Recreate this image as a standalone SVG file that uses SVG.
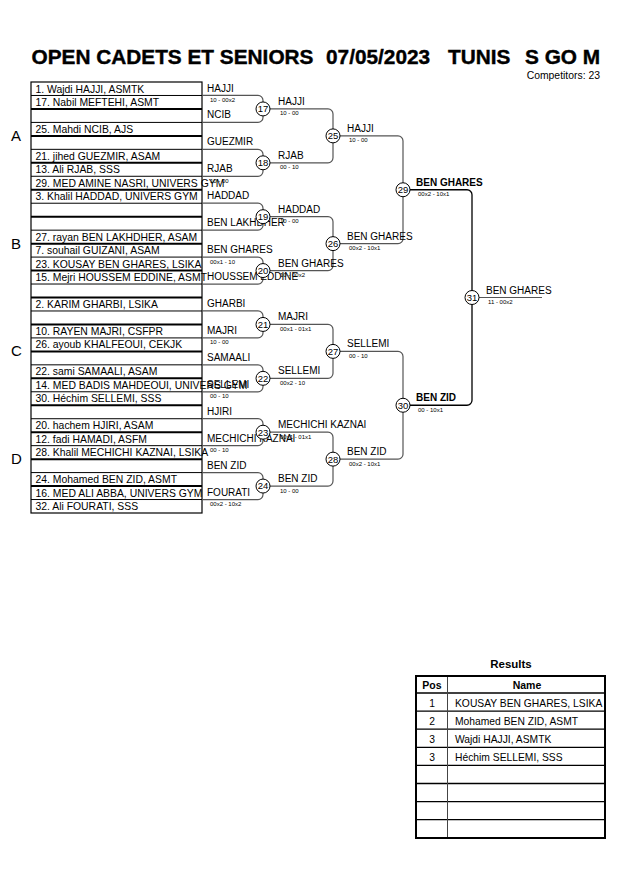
<svg xmlns="http://www.w3.org/2000/svg" width="630" height="891" viewBox="0 0 630 891">
<style>
text{font-family:"Liberation Sans",Arial,sans-serif;fill:#000}
.ttl{font-size:20.8px;font-weight:bold;stroke:#000;stroke-width:0.4}
.lst{font-size:10.4px}
.nm{font-size:10px}
.bn{font-size:10px;font-weight:bold}
.sc{font-size:6px}
.pool{font-size:15px}
.cn{font-size:9.5px;text-anchor:middle}
.c{fill:#fff;stroke:#000;stroke-width:1}
.ln{fill:none;stroke:#555;stroke-width:1.2}
.lb{fill:none;stroke:#000;stroke-width:1.3}
.rt{stroke:#000;stroke-width:1}
.rk{stroke:#000;stroke-width:2}
.tb{fill:none;stroke:#000;stroke-width:2}
.tl{stroke:#000;stroke-width:1.3}
.hd{font-size:10.5px;font-weight:bold;text-anchor:middle}
.rs{font-size:10.3px}
.rp{font-size:10.3px;text-anchor:middle}
</style>
<rect width="630" height="891" fill="#fff"/>
<g id="title">
<text class="ttl" x="31.5" y="64">OPEN CADETS ET SENIORS</text>
<text class="ttl" x="326" y="64">07/05/2023</text>
<text class="ttl" x="448" y="64">TUNIS</text>
<text class="ttl" x="525" y="64">S GO M</text>
<text style="font-size:10.4px;text-anchor:end" x="600" y="79">Competitors: 23</text>
</g>
<g id="pools">
<text class="pool" x="11" y="141">A</text>
<text class="pool" x="11" y="249">B</text>
<text class="pool" x="11" y="356">C</text>
<text class="pool" x="11" y="464">D</text>
</g>
<g id="list">
<rect x="31" y="82" width="171" height="431" fill="none" stroke="#000" stroke-width="1.2"/>
<line class="rt" x1="31" x2="202" y1="95.47" y2="95.47"/>
<line class="rk" x1="31" x2="202" y1="108.94" y2="108.94"/>
<line class="rt" x1="31" x2="202" y1="122.41" y2="122.41"/>
<line class="rk" x1="31" x2="202" y1="135.88" y2="135.88"/>
<line class="rt" x1="31" x2="202" y1="149.34" y2="149.34"/>
<line class="rk" x1="31" x2="202" y1="162.81" y2="162.81"/>
<line class="rt" x1="31" x2="202" y1="176.28" y2="176.28"/>
<line class="rk" x1="31" x2="202" y1="189.75" y2="189.75"/>
<line class="rt" x1="31" x2="202" y1="203.22" y2="203.22"/>
<line class="rk" x1="31" x2="202" y1="216.69" y2="216.69"/>
<line class="rt" x1="31" x2="202" y1="230.16" y2="230.16"/>
<line class="rk" x1="31" x2="202" y1="243.63" y2="243.63"/>
<line class="rt" x1="31" x2="202" y1="257.09" y2="257.09"/>
<line class="rk" x1="31" x2="202" y1="270.56" y2="270.56"/>
<line class="rt" x1="31" x2="202" y1="284.03" y2="284.03"/>
<line class="rk" x1="31" x2="202" y1="297.5" y2="297.5"/>
<line class="rt" x1="31" x2="202" y1="310.97" y2="310.97"/>
<line class="rk" x1="31" x2="202" y1="324.44" y2="324.44"/>
<line class="rt" x1="31" x2="202" y1="337.91" y2="337.91"/>
<line class="rk" x1="31" x2="202" y1="351.38" y2="351.38"/>
<line class="rt" x1="31" x2="202" y1="364.84" y2="364.84"/>
<line class="rk" x1="31" x2="202" y1="378.31" y2="378.31"/>
<line class="rt" x1="31" x2="202" y1="391.78" y2="391.78"/>
<line class="rk" x1="31" x2="202" y1="405.25" y2="405.25"/>
<line class="rt" x1="31" x2="202" y1="418.72" y2="418.72"/>
<line class="rk" x1="31" x2="202" y1="432.19" y2="432.19"/>
<line class="rt" x1="31" x2="202" y1="445.66" y2="445.66"/>
<line class="rk" x1="31" x2="202" y1="459.13" y2="459.13"/>
<line class="rt" x1="31" x2="202" y1="472.59" y2="472.59"/>
<line class="rk" x1="31" x2="202" y1="486.06" y2="486.06"/>
<line class="rt" x1="31" x2="202" y1="499.53" y2="499.53"/>
<text class="lst" x="35.5" y="92.5">1. Wajdi HAJJI, ASMTK</text>
<text class="lst" x="35.5" y="106">17. Nabil MEFTEHI, ASMT</text>
<text class="lst" x="35.5" y="132.9">25. Mahdi NCIB, AJS</text>
<text class="lst" x="35.5" y="159.8">21. jihed GUEZMIR, ASAM</text>
<text class="lst" x="35.5" y="173.3">13. Ali RJAB, SSS</text>
<text class="lst" x="35.5" y="186.8">29. MED AMINE NASRI, UNIVERS GYM</text>
<text class="lst" x="35.5" y="200.2">3. Khalil HADDAD, UNIVERS GYM</text>
<text class="lst" x="35.5" y="240.6">27. rayan BEN LAKHDHER, ASAM</text>
<text class="lst" x="35.5" y="254.1">7. souhail GUIZANI, ASAM</text>
<text class="lst" x="35.5" y="267.6">23. KOUSAY BEN GHARES, LSIKA</text>
<text class="lst" x="35.5" y="281">15. Mejri HOUSSEM EDDINE, ASMT</text>
<text class="lst" x="35.5" y="308">2. KARIM GHARBI, LSIKA</text>
<text class="lst" x="35.5" y="334.9">10. RAYEN MAJRI, CSFPR</text>
<text class="lst" x="35.5" y="348.4">26. ayoub KHALFEOUI, CEKJK</text>
<text class="lst" x="35.5" y="375.3">22. sami SAMAALI, ASAM</text>
<text class="lst" x="35.5" y="388.8">14. MED BADIS MAHDEOUI, UNIVERS GYM</text>
<text class="lst" x="35.5" y="402.3">30. Héchim SELLEMI, SSS</text>
<text class="lst" x="35.5" y="429.2">20. hachem HJIRI, ASAM</text>
<text class="lst" x="35.5" y="442.7">12. fadi HAMADI, ASFM</text>
<text class="lst" x="35.5" y="456.2">28. Khalil MECHICHI KAZNAI, LSIKA</text>
<text class="lst" x="35.5" y="483.1">24. Mohamed BEN ZID, ASMT</text>
<text class="lst" x="35.5" y="496.6">16. MED ALI ABBA, UNIVERS GYM</text>
<text class="lst" x="35.5" y="510">32. Ali FOURATI, SSS</text>
</g>
<g id="connectors">
<path class="ln" d="M202 95.47H258A5 5 0 0 1 263 100.47V117.41A5 5 0 0 1 258 122.41H202"/>
<path class="ln" d="M202 149.34H258A5 5 0 0 1 263 154.34V171.28A5 5 0 0 1 258 176.28H202"/>
<path class="ln" d="M202 203.22H258A5 5 0 0 1 263 208.22V225.16A5 5 0 0 1 258 230.16H202"/>
<path class="ln" d="M202 257.09H258A5 5 0 0 1 263 262.09V279.03A5 5 0 0 1 258 284.03H202"/>
<path class="ln" d="M202 310.97H258A5 5 0 0 1 263 315.97V332.91A5 5 0 0 1 258 337.91H202"/>
<path class="ln" d="M202 364.84H258A5 5 0 0 1 263 369.84V386.78A5 5 0 0 1 258 391.78H202"/>
<path class="ln" d="M202 418.72H258A5 5 0 0 1 263 423.72V440.66A5 5 0 0 1 258 445.66H202"/>
<path class="ln" d="M202 472.59H258A5 5 0 0 1 263 477.59V494.53A5 5 0 0 1 258 499.53H202"/>
<path class="ln" d="M263 108.94H328A5 5 0 0 1 333 113.94V157.81A5 5 0 0 1 328 162.81H263"/>
<path class="ln" d="M263 216.69H328A5 5 0 0 1 333 221.69V265.56A5 5 0 0 1 328 270.56H263"/>
<path class="ln" d="M263 324.44H328A5 5 0 0 1 333 329.44V373.31A5 5 0 0 1 328 378.31H263"/>
<path class="ln" d="M263 432.19H328A5 5 0 0 1 333 437.19V481.06A5 5 0 0 1 328 486.06H263"/>
<path class="ln" d="M333 135.88H398A5 5 0 0 1 403 140.88V238.63A5 5 0 0 1 398 243.63H333"/>
<path class="ln" d="M333 351.38H398A5 5 0 0 1 403 356.38V454.13A5 5 0 0 1 398 459.13H333"/>
<path class="lb" d="M403 189.75H467A5 5 0 0 1 472 194.75V400.25A5 5 0 0 1 467 405.25H403"/>
<path class="ln" d="M472 297.5H542"/>
</g>
<g id="round1-labels">
<text class="nm" x="207" y="91.5">HAJJI</text>
<text class="nm" x="207" y="118.4">NCIB</text>
<text class="nm" x="207" y="145.3">GUEZMIR</text>
<text class="nm" x="207" y="172.3">RJAB</text>
<text class="nm" x="207" y="199.2">HADDAD</text>
<text class="nm" x="207" y="226.2">BEN LAKHDHER</text>
<text class="nm" x="207" y="253.1">BEN GHARES</text>
<text class="nm" x="207" y="280">HOUSSEM EDDINE</text>
<text class="nm" x="207" y="307">GHARBI</text>
<text class="nm" x="207" y="333.9">MAJRI</text>
<text class="nm" x="207" y="360.8">SAMAALI</text>
<text class="nm" x="207" y="387.8">SELLEMI</text>
<text class="nm" x="207" y="414.7">HJIRI</text>
<text class="nm" x="207" y="441.7">MECHICHI KAZNAI</text>
<text class="nm" x="207" y="468.6">BEN ZID</text>
<text class="nm" x="207" y="495.5">FOURATI</text>
<text class="sc" x="210" y="102">10 - 00x2</text>
<text class="sc" x="210" y="182.8">10 - 00</text>
<text class="sc" x="210" y="263.6">00x1 - 10</text>
<text class="sc" x="210" y="344.4">10 - 00</text>
<text class="sc" x="210" y="398.3">00 - 10</text>
<text class="sc" x="210" y="452.2">00 - 10</text>
<text class="sc" x="210" y="506">00x2 - 10x2</text>
</g>
<g id="round2-labels">
<text class="nm" x="278" y="104.9">HAJJI</text>
<text class="nm" x="278" y="158.8">RJAB</text>
<text class="nm" x="278" y="212.7">HADDAD</text>
<text class="nm" x="278" y="266.6">BEN GHARES</text>
<text class="nm" x="278" y="320.4">MAJRI</text>
<text class="nm" x="278" y="374.3">SELLEMI</text>
<text class="nm" x="278" y="428.2">MECHICHI KAZNAI</text>
<text class="nm" x="278" y="482.1">BEN ZID</text>
<text class="sc" x="280" y="115.4">10 - 00</text>
<text class="sc" x="280" y="169.3">00 - 10</text>
<text class="sc" x="280" y="223.2">10 - 00</text>
<text class="sc" x="280" y="277.1">10 - 00x2</text>
<text class="sc" x="280" y="331">00x1 - 01x1</text>
<text class="sc" x="280" y="384.8">00x2 - 10</text>
<text class="sc" x="280" y="438.7">00x1 - 01x1</text>
<text class="sc" x="280" y="492.6">10 - 00</text>
</g>
<g id="round3-labels">
<text class="nm" x="347" y="131.9">HAJJI</text>
<text class="nm" x="347" y="239.6">BEN GHARES</text>
<text class="nm" x="347" y="347.4">SELLEMI</text>
<text class="nm" x="347" y="455.1">BEN ZID</text>
<text class="sc" x="349" y="142.4">10 - 00</text>
<text class="sc" x="349" y="250.1">00x2 - 10x1</text>
<text class="sc" x="349" y="357.9">00 - 10</text>
<text class="sc" x="349" y="465.6">00x2 - 10x1</text>
</g>
<g id="round4-labels">
<text class="bn" x="416" y="185.8">BEN GHARES</text>
<text class="bn" x="416" y="401.3">BEN ZID</text>
<text class="sc" x="418" y="196.3">00x2 - 10x1</text>
<text class="sc" x="418" y="411.8">00 - 10x1</text>
</g>
<g id="final-label">
<text class="nm" x="486" y="293.5">BEN GHARES</text>
<text class="sc" x="488" y="304">11 - 00x2</text>
</g>
<g id="m17"><circle class="c" cx="263" cy="108.94" r="7"/><text class="cn" x="263" y="112.3">17</text></g>
<g id="m18"><circle class="c" cx="263" cy="162.81" r="7"/><text class="cn" x="263" y="166.2">18</text></g>
<g id="m19"><circle class="c" cx="263" cy="216.69" r="7"/><text class="cn" x="263" y="220.1">19</text></g>
<g id="m20"><circle class="c" cx="263" cy="270.56" r="7"/><text class="cn" x="263" y="273.9">20</text></g>
<g id="m21"><circle class="c" cx="263" cy="324.44" r="7"/><text class="cn" x="263" y="327.8">21</text></g>
<g id="m22"><circle class="c" cx="263" cy="378.31" r="7"/><text class="cn" x="263" y="381.7">22</text></g>
<g id="m23"><circle class="c" cx="263" cy="432.19" r="7"/><text class="cn" x="263" y="435.6">23</text></g>
<g id="m24"><circle class="c" cx="263" cy="486.06" r="7"/><text class="cn" x="263" y="489.4">24</text></g>
<g id="m25"><circle class="c" cx="333" cy="135.88" r="7"/><text class="cn" x="333" y="139.3">25</text></g>
<g id="m26"><circle class="c" cx="333" cy="243.63" r="7"/><text class="cn" x="333" y="247">26</text></g>
<g id="m27"><circle class="c" cx="333" cy="351.38" r="7"/><text class="cn" x="333" y="354.8">27</text></g>
<g id="m28"><circle class="c" cx="333" cy="459.13" r="7"/><text class="cn" x="333" y="462.5">28</text></g>
<g id="m29"><circle class="c" cx="403" cy="189.75" r="7"/><text class="cn" x="403" y="193.1">29</text></g>
<g id="m30"><circle class="c" cx="403" cy="405.25" r="7"/><text class="cn" x="403" y="408.6">30</text></g>
<g id="m31"><circle class="c" cx="472" cy="297.5" r="7"/><text class="cn" x="472" y="300.9">31</text></g>
<g id="results">
<text style="font-size:11.5px;font-weight:bold;text-anchor:middle" x="511" y="668">Results</text>
<line class="tl" x1="416" x2="605" y1="693" y2="693"/>
<line class="tl" x1="416" x2="605" y1="711.1" y2="711.1"/>
<line class="tl" x1="416" x2="605" y1="729.2" y2="729.2"/>
<line class="tl" x1="416" x2="605" y1="747.3" y2="747.3"/>
<line class="tl" x1="416" x2="605" y1="765.4" y2="765.4"/>
<line class="tl" x1="416" x2="605" y1="783.5" y2="783.5"/>
<line class="tl" x1="416" x2="605" y1="801.6" y2="801.6"/>
<line class="tl" x1="416" x2="605" y1="819.7" y2="819.7"/>
<line x1="447.5" x2="447.5" y1="676" y2="838" stroke="#444" stroke-width="1"/>
<rect class="tb" x="416" y="676" width="189" height="162"/>
<text class="hd" x="432" y="689">Pos</text>
<text class="hd" x="527" y="689">Name</text>
<text class="rp" x="432" y="706.5">1</text>
<text class="rs" x="455" y="706.5">KOUSAY BEN GHARES, LSIKA</text>
<text class="rp" x="432" y="724.6">2</text>
<text class="rs" x="455" y="724.6">Mohamed BEN ZID, ASMT</text>
<text class="rp" x="432" y="742.7">3</text>
<text class="rs" x="455" y="742.7">Wajdi HAJJI, ASMTK</text>
<text class="rp" x="432" y="760.8">3</text>
<text class="rs" x="455" y="760.8">Héchim SELLEMI, SSS</text>
</g>
</svg>
